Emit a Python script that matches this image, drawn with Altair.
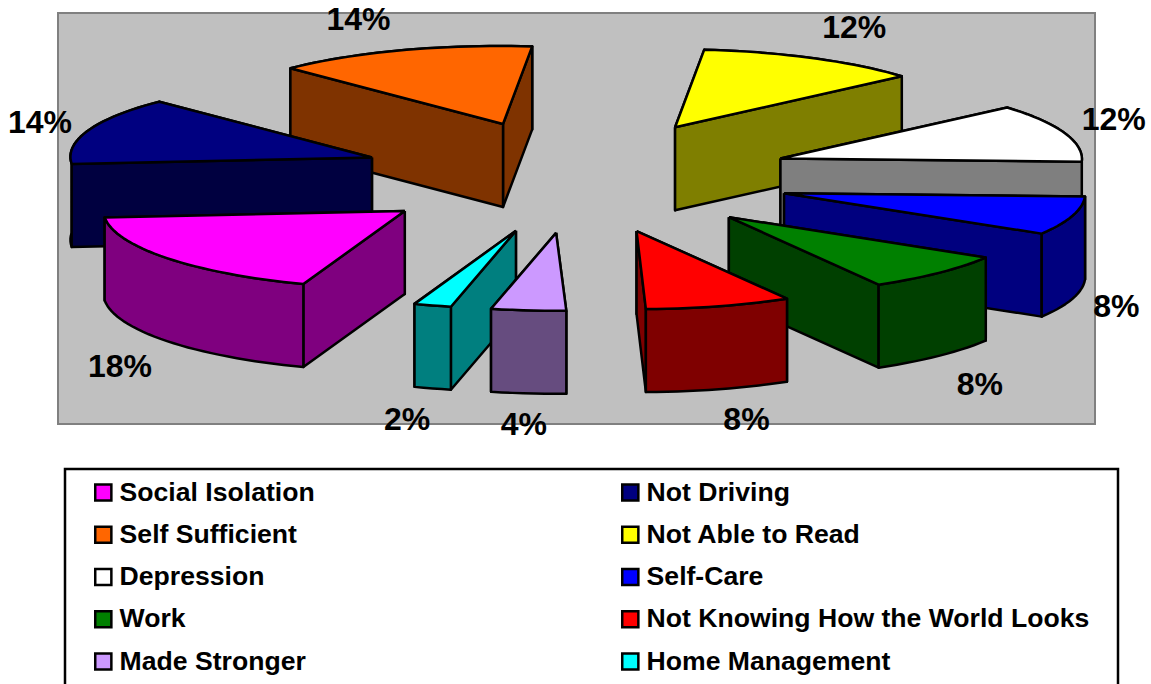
import math
import altair as alt
import pandas as pd

# Survey shares, in clockwise pie order
slices = ["Social Isolation", "Not Driving", "Self Sufficient", "Not Able to Read",
          "Depression", "Self-Care", "Work", "Not Knowing How the World Looks",
          "Made Stronger", "Home Management"]
shares = [18, 14, 14, 12, 12, 8, 8, 8, 4, 2]
tops = ["#FF00FF", "#000080", "#FF6600", "#FFFF00", "#FFFFFF",
        "#0000FF", "#008000", "#FF0000", "#CC99FF", "#00FFFF"]
# Legend reads across the rows; Vega fills its columns top to bottom
legend_order = ["Social Isolation", "Self Sufficient", "Depression", "Work", "Made Stronger",
                "Not Driving", "Not Able to Read", "Self-Care",
                "Not Knowing How the World Looks", "Home Management"]

# Pie projection settings
W, H = 1151, 684
CX, CY = 576, 177
RX, RY = 301.5, 78
DEPTH = 83
EXPLODE = 0.72
START_DEG = 200.4
LEAN_BACK = 0.03    # perspective lean of the far half of the top faces
LEAN_FRONT = 0.05   # and of the near half, fading out towards the right
# Nudge of each percentage label from its slice's outer rim
label_nudge = [(-43, 109), (-50, -7), (-47, -30), (38, -30), (48, -13),
               (44, 91), (41, 112), (31, 114), (2, 115), (-19, 115)]


def shade(color):
    """Side walls use half the brightness of the top face."""
    r, g, b = (int(color[i:i + 2], 16) // 2 for i in (1, 3, 5))
    return f"#{r:02x}{g:02x}{b:02x}"


def rim(deg):
    t = math.radians(deg)
    return RX * math.sin(t), -RY * math.cos(t)


def lean(x, y):
    if y < CY:
        return x + LEAN_BACK * (y - CY), y
    fade = 1 - min(1, max(0, (x - CX) / RX))
    return x + LEAN_FRONT * fade * (y - CY), y


faces, labels = [], []
angle = START_DEG
geometry = []
for name, share, color, nudge in zip(slices, shares, tops, label_nudge):
    sweep = share * 3.6
    mid = angle + sweep / 2
    mx, my = rim(mid)
    ax, ay = CX + EXPLODE * mx, CY + EXPLODE * my
    steps = max(4, int(sweep / 2))
    arc = []
    for k in range(steps + 1):
        dx, dy = rim(angle + sweep * k / steps)
        arc.append(lean(ax + dx, ay + dy))
    labels.append({"text": f"{share}%", "x": ax + mx + nudge[0], "y": ay + my + nudge[1]})
    geometry.append({"name": name, "color": color, "apex": lean(ax, ay), "arc": arc})
    angle += sweep

# Paint slices from the back of the pie to the front
paint_order = sorted(range(len(geometry)),
                     key=lambda i: geometry[i]["apex"][1] + 0.3 * sum(p[1] for p in geometry[i]["arc"]) / len(geometry[i]["arc"]))
face_id = 0


def add_face(points, fill):
    global face_id
    closed = points + [points[0]]
    for seq, (x, y) in enumerate(closed):
        faces.append({"face": face_id, "seq": seq, "x": x, "y": y, "fill": fill})
    face_id += 1


for i in paint_order:
    g = geometry[i]
    apex, arc = g["apex"], g["arc"]
    side = shade(g["color"])
    down = lambda pts: [(x, y + DEPTH) for x, y in reversed(pts)]
    walls = [[apex, arc[0]] + down([apex, arc[0]]),
             [apex, arc[-1]] + down([apex, arc[-1]]),
             arc + down(arc)]
    for wall in sorted(walls, key=lambda w: sum(p[1] for p in w) / len(w)):
        add_face(wall, side)
    add_face([apex] + arc, g["color"])

faces_df = pd.DataFrame(faces)
labels_df = pd.DataFrame(labels)
legend_df = pd.DataFrame({"slice": slices, "x": [600] * len(slices), "y": [200] * len(slices)})
plot_df = pd.DataFrame([{"x": 58, "x2": 1095, "y": 13, "y2": 424}])
box_df = pd.DataFrame([{"x": 65, "x2": 1118, "y": 469, "y2": 695}])

x_scale = alt.Scale(domain=[0, W], nice=False, zero=False)
y_scale = alt.Scale(domain=[H, 0], nice=False, zero=False)
X = alt.X("x:Q", scale=x_scale, axis=None)
Y = alt.Y("y:Q", scale=y_scale, axis=None)

plot_area = alt.Chart(plot_df).mark_rect(fill="#C0C0C0", stroke="#808080", strokeWidth=2).encode(
    x=X, y=Y, x2="x2:Q", y2="y2:Q")

legend_box = alt.Chart(box_df).mark_rect(fill="white", stroke="black", strokeWidth=2.5, clip=False).encode(
    x=X, y=Y, x2="x2:Q", y2="y2:Q")

key = alt.Chart(legend_df).mark_square(size=1, opacity=0).encode(
    x=X, y=Y,
    color=alt.Color("slice:N", scale=alt.Scale(domain=slices, range=tops),
                    legend=alt.Legend(orient="none", legendX=90, legendY=471.5, title=None, columns=2,
                                      values=legend_order,
                                      columnPadding=302, rowPadding=0.25, padding=0,
                                      symbolType="square", symbolSize=260, symbolOpacity=1,
                                      symbolStrokeColor="black", symbolStrokeWidth=2.5,
                                      labelFont="Liberation Sans", labelFontWeight="bold",
                                      labelFontSize=26.6, labelColor="black", labelLimit=520,
                                      labelOffset=3, clipHeight=42, gridAlign="each")))

walls = alt.Chart(faces_df).mark_line(stroke="black", strokeWidth=2.5, strokeJoin="round").encode(
    x=X, y=Y, fill=alt.Fill("fill:N", scale=None), detail="face:N", order="seq:Q")

text = alt.Chart(labels_df).mark_text(font="Liberation Sans", fontWeight="bold", fontSize=32,
                                      color="black").encode(x=X, y=Y, text="text:N")

chart = alt.layer(plot_area, legend_box, key, walls, text).properties(
    width=W, height=H, padding=0, autosize=alt.AutoSizeParams(type="none"),
    background="white").configure_view(stroke=None)
chart.save("out.html", embed_options={"renderer": "svg", "actions": False})
